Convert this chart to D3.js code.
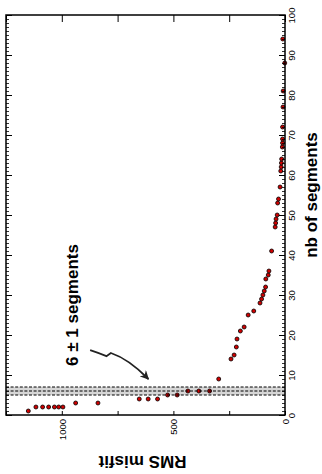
<!DOCTYPE html>
<html>
<head>
<meta charset="utf-8">
<script src="https://cdn.jsdelivr.net/npm/d3@7"></script>
<style>
  body { margin: 0; background: #fff; }
  svg { display: block; font-family: "Liberation Sans", Arial, sans-serif; }
</style>
</head>
<body>
<div id="chart"></div>
<script>
// number of segments for each run
var segments = [1, 2, 2, 2, 2, 2, 2, 3, 3, 4, 4, 4, 5, 5, 6, 6, 6, 9,
  14, 15, 17, 19, 21, 22, 25, 26, 28, 29, 30, 31, 32, 34, 35, 36, 41,
  47, 48, 49, 50, 53, 54, 57, 61, 62, 63, 64, 67, 68, 69, 72, 77, 81, 88, 94];
// RMS misfit of each run
var misfit = [1150, 1116, 1086, 1059, 1033, 1014, 995, 938, 838, 653, 613, 571, 526, 483, 435, 386, 338, 297,
  242, 228, 218, 215, 200, 183, 165, 140, 112, 105, 99, 93, 87, 86, 75, 72, 60,
  44, 42, 40, 35, 33, 29, 22, 19, 17, 16, 15, 12, 11, 11, 11, 9, 8, 1, 10];
var segTicks = [0, 10, 20, 30, 40, 50, 60, 70, 80, 90, 100];
var misfitTicks = [0, 500, 1000];
var bestSeg = [5, 6, 7]; // 6 +- 1 segments

var svgWidth = 322, svgHeight = 474;
var frame = { left: 6, right: 285, top: 15, bottom: 415 };

var svg = d3.select("#chart")
  .append("svg")
  .attr("width", svgWidth)
  .attr("height", svgHeight);

// figure is turned on its side: segments go up, misfit goes left
var y = d3.scaleLinear().domain([0, 100]).range([frame.bottom, frame.top]);
var x = d3.scaleLinear().domain([0, 1250]).range([frame.right, frame.left]);

// shaded band around the chosen number of segments
svg.append("rect")
  .attr("x", frame.left)
  .attr("width", frame.right - frame.left)
  .attr("y", y(bestSeg[2]))
  .attr("height", y(bestSeg[0]) - y(bestSeg[2]))
  .attr("fill", "#d6d6d6");

// points
svg.append("g")
  .selectAll("circle")
  .data(segments)
  .enter()
  .append("circle")
  .attr("cx", function(d, i) { return x(misfit[i]); })
  .attr("cy", function(d) { return y(d); })
  .attr("r", 2)
  .attr("fill", "#d00000")
  .attr("stroke", "#000")
  .attr("stroke-width", 0.8);

// dashed lines over the band
svg.append("g")
  .selectAll("line")
  .data(bestSeg)
  .enter()
  .append("line")
  .attr("x1", frame.left)
  .attr("x2", frame.right)
  .attr("y1", function(d) { return y(d); })
  .attr("y2", function(d) { return y(d); })
  .attr("stroke", "#000")
  .attr("stroke-width", 1)
  .attr("stroke-dasharray", "3,1.6");

// right axis (segments), ticks pointing inward
var right = svg.append("g")
  .attr("transform", "translate(" + frame.right + ",0)")
  .call(d3.axisRight(y).tickValues(d3.range(0, 101, 1)).tickSize(-3).tickFormat(""));
right.select(".domain").remove();
right.selectAll("line").attr("stroke-width", 0.8);

var rightMajor = svg.append("g")
  .attr("transform", "translate(" + frame.right + ",0)")
  .call(d3.axisRight(y).tickValues(segTicks).tickSize(-6).tickFormat(d3.format("d")));
rightMajor.select(".domain").remove();
rightMajor.selectAll("line").attr("stroke-width", 1);
rightMajor.selectAll("text")
  .attr("x", 0)
  .attr("dy", 0)
  .attr("text-anchor", "middle")
  .attr("transform", "translate(10,0) rotate(-90)")
  .attr("font-size", 9.5)
  .attr("fill", "#000");

// mirrored ticks on the left border
var left = svg.append("g")
  .attr("transform", "translate(" + frame.left + ",0)")
  .call(d3.axisLeft(y).tickValues(d3.range(0, 101, 1)).tickSize(-3).tickFormat(""));
left.select(".domain").remove();
left.selectAll("line").attr("stroke-width", 0.8);
var leftMajor = svg.append("g")
  .attr("transform", "translate(" + frame.left + ",0)")
  .call(d3.axisLeft(y).tickValues(segTicks).tickSize(-6).tickFormat(""));
leftMajor.select(".domain").remove();

// bottom axis (misfit)
var bottomAxis = svg.append("g")
  .attr("transform", "translate(0," + frame.bottom + ")")
  .call(d3.axisBottom(x).tickValues(d3.range(0, 1251, 250)).tickSize(-4).tickFormat(function(d) {
    return misfitTicks.indexOf(d) >= 0 ? d : "";
  }));
bottomAxis.select(".domain").remove();
bottomAxis.selectAll("text")
  .attr("y", 0)
  .attr("dy", 0)
  .attr("text-anchor", "end")
  .attr("transform", "translate(3.5,4) rotate(-90)")
  .attr("font-size", 9.5)
  .attr("fill", "#000");

// top border ticks
var topAxis = svg.append("g")
  .attr("transform", "translate(0," + frame.top + ")")
  .call(d3.axisTop(x).tickValues(d3.range(0, 1251, 250)).tickSize(-7).tickFormat(""));
topAxis.select(".domain").remove();

// frame
svg.append("rect")
  .attr("x", frame.left)
  .attr("y", frame.top)
  .attr("width", frame.right - frame.left)
  .attr("height", frame.bottom - frame.top)
  .attr("fill", "none")
  .attr("stroke", "#000")
  .attr("stroke-width", 1.5);

// axis titles
svg.append("text")
  .attr("transform", "translate(317,195) rotate(-90)")
  .attr("text-anchor", "middle")
  .attr("font-size", 17)
  .attr("font-weight", "bold")
  .text("nb of segments");

svg.append("text")
  .attr("transform", "translate(142.5,456) rotate(180)")
  .attr("text-anchor", "middle")
  .attr("font-size", 17)
  .attr("font-weight", "bold")
  .text("RMS misfit");

// annotation
svg.append("text")
  .attr("transform", "translate(77.5,305) rotate(-90)")
  .attr("text-anchor", "middle")
  .attr("font-size", 17)
  .attr("font-weight", "bold")
  .text("6 \u00b1 1 segments");

svg.append("defs").append("marker")
  .attr("id", "head")
  .attr("viewBox", "0 0 10 10")
  .attr("refX", 9)
  .attr("refY", 5)
  .attr("markerWidth", 5)
  .attr("markerHeight", 5)
  .attr("markerUnits", "strokeWidth")
  .attr("orient", "auto")
  .append("path")
  .attr("d", "M0,0 L10,5 L0,10 L3,5 Z")
  .attr("fill", "#222");

var a0 = [x(873), y(16.2)], a1 = [x(800), y(14.7)], a2 = [x(780), y(15.5)], a3 = [x(612), y(9)];
svg.append("path")
  .attr("d", "M" + a0 + " Q" + [x(840), y(15.6)] + " " + a1 + " L" + a2 +
    " Q" + [x(700), y(14)] + " " + a3)
  .attr("fill", "none")
  .attr("stroke", "#222")
  .attr("stroke-width", 1.8)
  .attr("marker-end", "url(#head)");
</script>
</body>
</html>
